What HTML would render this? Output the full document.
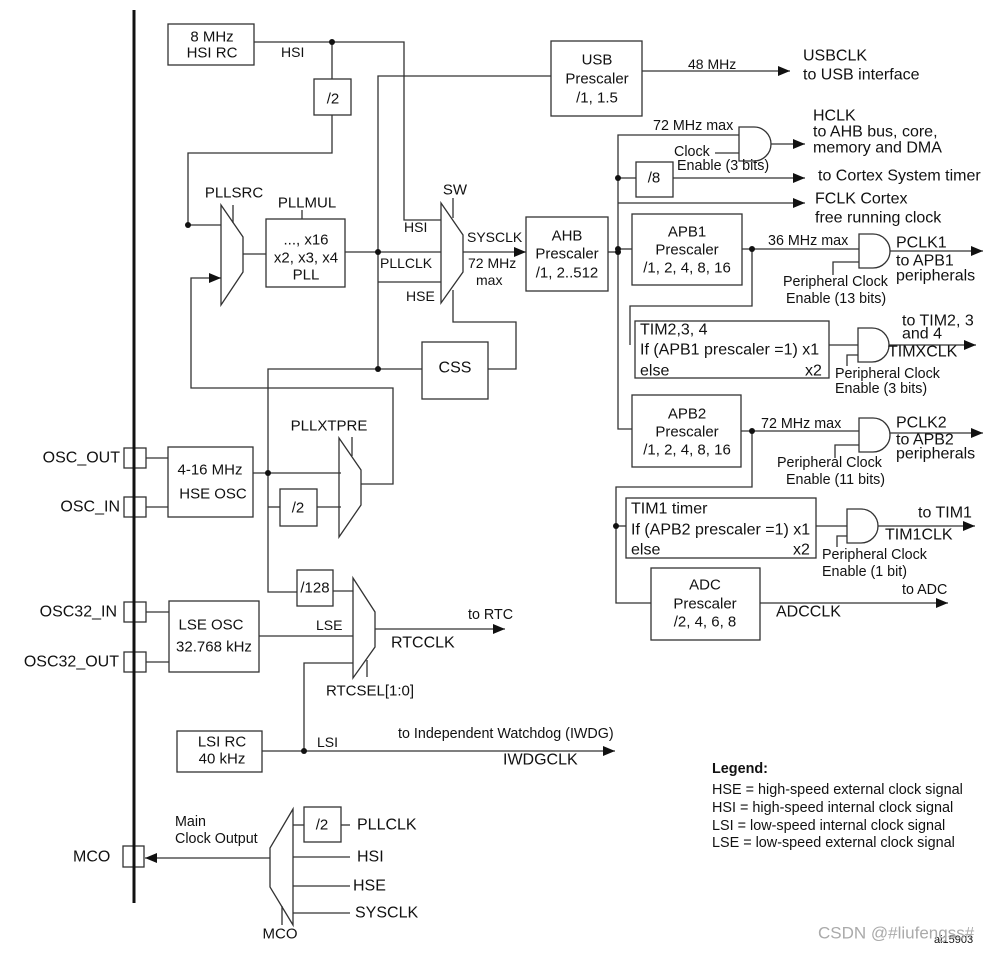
<!DOCTYPE html>
<html><head><meta charset="utf-8"><style>
html,body{margin:0;padding:0;background:#fff;}
svg{display:block;}
text{font-family:"Liberation Sans",Arial,sans-serif;fill:#111;dominant-baseline:central;}
.l{fill:none;stroke:#333;stroke-width:1.3;}
.t16{font-size:16px;}
.t15{font-size:15px;}
.t14{font-size:14px;}
.t13{font-size:14.3px;}
.lg{font-size:14.4px;}
</style></head><body>
<svg width="1008" height="953" viewBox="0 0 1008 953" xmlns="http://www.w3.org/2000/svg">
<defs>
<marker id="a" markerWidth="12" markerHeight="10" refX="12" refY="5" orient="auto" markerUnits="userSpaceOnUse"><path d="M0,0 L12,5 L0,10 Z" fill="#111"/></marker>
</defs>
<g class="l">
<polyline points="254,42 404,42 404,220 441,220"/>
<polyline points="332,42 332,79"/>
<rect x="314" y="79" width="37" height="36"/>
<polyline points="332,115 332,153 188,153 188,225 221,225"/>
<polygon points="221,205 243,237 243,272 221,305"/>
<line x1="233" y1="205" x2="233" y2="223"/>
<line x1="243" y1="254" x2="266" y2="254"/>
<rect x="266" y="219" width="79" height="68"/>
<line x1="302" y1="210" x2="302" y2="219"/>
<line x1="345" y1="252" x2="441" y2="252"/>
<polyline points="378,369 378,76 551,76"/>
<rect x="551" y="41" width="91" height="75"/>
<line x1="642" y1="71" x2="790" y2="71" marker-end="url(#a)"/>
<line x1="378" y1="282" x2="441" y2="282"/>
<line x1="378" y1="369" x2="422" y2="369"/>
<polyline points="378,369 268,369 268,592 297,592"/>
<rect x="422" y="342" width="66" height="57"/>
<polyline points="488,369 516,369 516,322 453,322 453,290"/>
<polygon points="441,203 463,235 463,272 441,303"/>
<line x1="453" y1="198" x2="453" y2="218"/>
<line x1="463" y1="252" x2="526" y2="252" marker-end="url(#a)"/>
<rect x="526" y="217" width="82" height="74"/>
<line x1="608" y1="252" x2="618" y2="252"/>
<polyline points="739,135 618,135 618,429 632,429"/>
<path d="M739,127 L754,127 A17,17 0 0 1 754,161 L739,161 Z"/>
<line x1="771" y1="144" x2="805" y2="144" marker-end="url(#a)"/>
<line x1="715" y1="153" x2="739" y2="153"/>
<line x1="618" y1="178" x2="636" y2="178"/>
<rect x="636" y="162" width="37" height="35"/>
<line x1="673" y1="178" x2="805" y2="178" marker-end="url(#a)"/>
<line x1="618" y1="203" x2="805" y2="203" marker-end="url(#a)"/>
<line x1="618" y1="249" x2="632" y2="249"/>
<rect x="632" y="214" width="110" height="71"/>
<line x1="742" y1="249" x2="859" y2="249"/>
<path d="M859,234 L873,234 A17,17 0 0 1 873,268 L859,268 Z"/>
<line x1="890" y1="251" x2="983" y2="251" marker-end="url(#a)"/>
<polyline points="833,275 833,262 859,262"/>
<polyline points="752,249 752,306 630,306 630,345"/>
<rect x="635" y="321" width="194" height="57"/>
<line x1="829" y1="345" x2="858" y2="345"/>
<path d="M858,328 L872,328 A17,17 0 0 1 872,362 L858,362 Z"/>
<line x1="889" y1="345" x2="976" y2="345" marker-end="url(#a)"/>
<polyline points="847,366 847,355 858,355"/>
<rect x="632" y="395" width="109" height="72"/>
<line x1="741" y1="431" x2="859" y2="431"/>
<path d="M859,418 L873,418 A17,17 0 0 1 873,452 L859,452 Z"/>
<line x1="890" y1="433" x2="983" y2="433" marker-end="url(#a)"/>
<polyline points="835,458 835,445 859,445"/>
<polyline points="752,431 752,487 616,487 616,603 651,603"/>
<line x1="616" y1="526" x2="626" y2="526"/>
<rect x="626" y="498" width="190" height="60"/>
<line x1="816" y1="526" x2="847" y2="526"/>
<path d="M847,509 L861,509 A17,17 0 0 1 861,543 L847,543 Z"/>
<line x1="878" y1="526" x2="975" y2="526" marker-end="url(#a)"/>
<polyline points="837,547 837,536 847,536"/>
<rect x="651" y="568" width="109" height="72"/>
<line x1="760" y1="603" x2="948" y2="603" marker-end="url(#a)"/>
<rect x="124" y="448" width="22" height="20"/>
<rect x="124" y="497" width="22" height="20"/>
<rect x="124" y="602" width="22" height="20"/>
<rect x="124" y="652" width="22" height="20"/>
<rect x="123" y="846" width="21" height="21"/>
<rect x="168" y="447" width="85" height="70"/>
<line x1="146" y1="458" x2="168" y2="458"/>
<line x1="146" y1="507" x2="168" y2="507"/>
<line x1="253" y1="473" x2="341" y2="473"/>
<line x1="268" y1="507" x2="280" y2="507"/>
<rect x="280" y="489" width="37" height="37"/>
<line x1="317" y1="507" x2="341" y2="507"/>
<polygon points="339,438 361,470 361,505 339,537"/>
<line x1="352" y1="437" x2="352" y2="456"/>
<polyline points="361,484 393,484 393,388 191,388 191,278 221,278" marker-end="url(#a)"/>
<rect x="297" y="570" width="36" height="36"/>
<line x1="333" y1="591" x2="353" y2="591"/>
<polygon points="353,578 375,612 375,647 353,678"/>
<line x1="367" y1="660" x2="367" y2="677"/>
<line x1="375" y1="629" x2="505" y2="629" marker-end="url(#a)"/>
<rect x="169" y="601" width="90" height="71"/>
<line x1="146" y1="612" x2="169" y2="612"/>
<line x1="146" y1="662" x2="169" y2="662"/>
<line x1="259" y1="636" x2="353" y2="636"/>
<rect x="177" y="731" width="85" height="41"/>
<line x1="262" y1="751" x2="615" y2="751" marker-end="url(#a)"/>
<polyline points="304,751 304,663 353,663"/>
<polygon points="293,809 270,848 270,887 293,925"/>
<line x1="282" y1="906" x2="282" y2="925"/>
<line x1="270" y1="858" x2="145" y2="858" marker-end="url(#a)"/>
<line x1="293" y1="825" x2="304" y2="825"/>
<rect x="304" y="807" width="37" height="35"/>
<line x1="341" y1="825" x2="350" y2="825"/>
<line x1="293" y1="857" x2="350" y2="857"/>
<line x1="293" y1="886" x2="350" y2="886"/>
<line x1="293" y1="913" x2="350" y2="913"/>
<rect x="168" y="24" width="86" height="41"/>
</g>
<line x1="134" y1="10" x2="134" y2="903" stroke="#111" stroke-width="3"/>
<g fill="#111">
<circle cx="332" cy="42" r="3"/><circle cx="188" cy="225" r="3"/><circle cx="378" cy="252" r="3"/>
<circle cx="378" cy="369" r="3"/><circle cx="268" cy="473" r="3"/><circle cx="618" cy="252" r="3"/>
<circle cx="618" cy="178" r="3"/><circle cx="618" cy="249" r="3"/><circle cx="752" cy="249" r="3"/>
<circle cx="752" cy="431" r="3"/><circle cx="616" cy="526" r="3"/><circle cx="304" cy="751" r="3"/>
</g>
<g class="t15" text-anchor="middle">
<text x="212" y="37">8 MHz</text><text x="212" y="53">HSI RC</text>
<text x="333" y="99">/2</text>
<text x="306" y="240">..., x16</text><text x="306" y="258">x2, x3, x4</text><text x="306" y="275">PLL</text>
<text x="597" y="60">USB</text><text x="597" y="79">Prescaler</text><text x="597" y="98">/1, 1.5</text>
<text x="567" y="236">AHB</text><text x="567" y="254">Prescaler</text><text x="567" y="273">/1, 2..512</text>
<text x="455" y="368" class="t16">CSS</text>
<text x="654" y="178">/8</text>
<text x="687" y="232">APB1</text><text x="687" y="250">Prescaler</text><text x="687" y="268">/1, 2, 4, 8, 16</text>
<text x="687" y="414">APB2</text><text x="687" y="432">Prescaler</text><text x="687" y="450">/1, 2, 4, 8, 16</text>
<text x="705" y="585">ADC</text><text x="705" y="604">Prescaler</text><text x="705" y="622">/2, 4, 6, 8</text>
<text x="210" y="470">4-16 MHz</text><text x="213" y="494">HSE OSC</text>
<text x="298" y="508">/2</text><text x="315" y="588">/128</text>
<text x="211" y="625">LSE OSC</text><text x="214" y="647">32.768 kHz</text>
<text x="222" y="742">LSI RC</text><text x="222" y="759">40 kHz</text>
<text x="322" y="825">/2</text>
<text x="234" y="193">PLLSRC</text><text x="307" y="203">PLLMUL</text><text x="455" y="190">SW</text>
<text x="329" y="426">PLLXTPRE</text><text x="370" y="691">RTCSEL[1:0]</text>
<text x="280" y="934">MCO</text>
</g>
<g class="t14">
<text x="281" y="52">HSI</text>
<text x="404" y="227">HSI</text><text x="380" y="263">PLLCLK</text><text x="406" y="296">HSE</text>
<text x="467" y="237">SYSCLK</text><text x="468" y="263">72 MHz</text><text x="476" y="280">max</text>
<text x="688" y="64">48 MHz</text>
<text x="803" y="56" class="t16">USBCLK</text><text x="803" y="75" class="t16">to USB interface</text>
<text x="653" y="126" class="t13">72 MHz max</text>
<text x="674" y="152" class="t13">Clock</text><text x="677" y="166" class="t13">Enable (3 bits)</text>
<text x="813" y="116" class="t16">HCLK</text><text x="813" y="132" class="t16">to AHB bus, core,</text><text x="813" y="148" class="t16">memory and DMA</text>
<text x="818" y="176" class="t16">to Cortex System timer</text>
<text x="815" y="199" class="t16">FCLK Cortex</text><text x="815" y="218" class="t16">free running clock</text>
<text x="768" y="241" class="t13">36 MHz max</text>
<text x="896" y="243" class="t16">PCLK1</text><text x="896" y="261" class="t16">to APB1</text><text x="896" y="276" class="t16">peripherals</text>
<text x="783" y="282" class="t13">Peripheral Clock</text><text x="786" y="299" class="t13">Enable (13 bits)</text>
<text x="640" y="330" class="t16">TIM2,3, 4</text><text x="640" y="350" class="t16">If (APB1 prescaler =1) x1</text><text x="640" y="371" class="t16">else</text><text x="805" y="371" class="t16">x2</text>
<text x="902" y="321" class="t16">to TIM2, 3</text><text x="902" y="334" class="t16">and 4</text><text x="888" y="352" class="t16">TIMXCLK</text>
<text x="835" y="374" class="t13">Peripheral Clock</text><text x="835" y="389" class="t13">Enable (3 bits)</text>
<text x="761" y="424" class="t13">72 MHz max</text>
<text x="896" y="423" class="t16">PCLK2</text><text x="896" y="440" class="t16">to APB2</text><text x="896" y="454" class="t16">peripherals</text>
<text x="777" y="463" class="t13">Peripheral Clock</text><text x="786" y="480" class="t13">Enable (11 bits)</text>
<text x="631" y="509" class="t16">TIM1 timer</text><text x="631" y="530" class="t16">If (APB2 prescaler =1) x1</text><text x="631" y="550" class="t16">else</text><text x="793" y="550" class="t16">x2</text>
<text x="918" y="513" class="t16">to TIM1</text><text x="885" y="535" class="t16">TIM1CLK</text>
<text x="822" y="555" class="t13">Peripheral Clock</text><text x="822" y="572" class="t13">Enable (1 bit)</text>
<text x="902" y="590" class="t13">to ADC</text><text x="776" y="612" class="t16">ADCCLK</text>
<text x="120" y="458" text-anchor="end" class="t16">OSC_OUT</text>
<text x="120" y="507" text-anchor="end" class="t16">OSC_IN</text>
<text x="117" y="612" text-anchor="end" class="t16">OSC32_IN</text>
<text x="119" y="662" text-anchor="end" class="t16">OSC32_OUT</text>
<text x="316" y="625">LSE</text>
<text x="468" y="615" class="t13">to RTC</text><text x="391" y="643" class="t16">RTCCLK</text>
<text x="317" y="742">LSI</text>
<text x="398" y="734" class="t13">to Independent Watchdog (IWDG)</text>
<text x="503" y="760" class="t16">IWDGCLK</text>
<text x="73" y="857" class="t16">MCO</text>
<text x="175" y="822" class="t13">Main</text><text x="175" y="839" class="t13">Clock Output</text>
<text x="357" y="825" class="t16">PLLCLK</text><text x="357" y="857" class="t16">HSI</text>
<text x="353" y="886" class="t16">HSE</text><text x="355" y="913" class="t16">SYSCLK</text>
<text x="712" y="769" font-weight="bold" class="lg">Legend:</text>
<text x="712" y="790" class="lg">HSE = high-speed external clock signal</text>
<text x="712" y="808" class="lg">HSI = high-speed internal clock signal</text>
<text x="712" y="826" class="lg">LSI = low-speed internal clock signal</text>
<text x="712" y="843" class="lg">LSE = low-speed external clock signal</text>
<text x="934" y="940" font-size="11">ai15903</text>
<text x="818" y="933" font-size="17" style="fill:#aaa">CSDN @#liufengss#</text>
</g>
</svg>
</body></html>
